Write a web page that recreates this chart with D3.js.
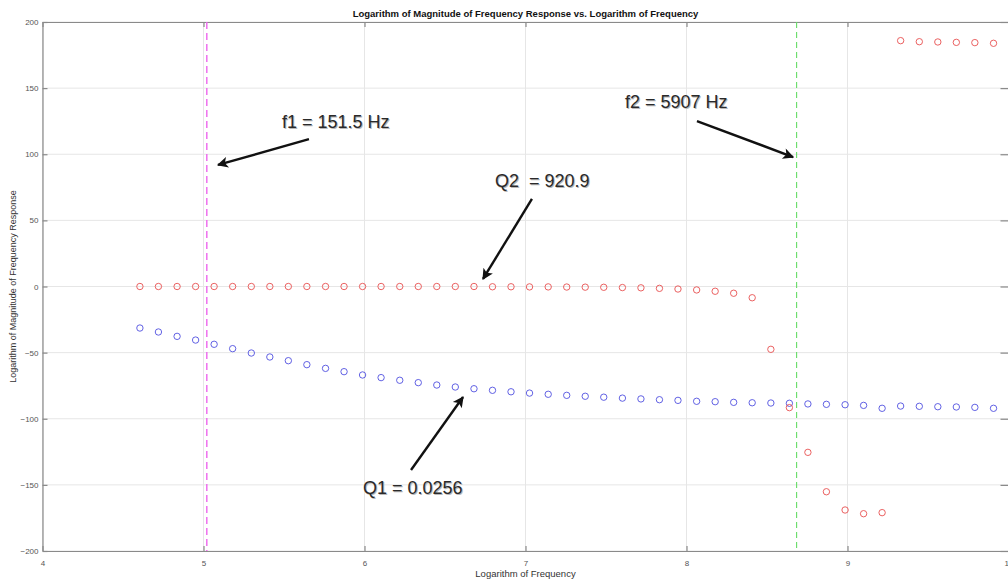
<!DOCTYPE html>
<html>
<head>
<meta charset="utf-8">
<script src="https://cdn.jsdelivr.net/npm/d3@7"></script>
<style>
  html, body { margin: 0; padding: 0; background: #fff; overflow: hidden; }
  svg { display: block; font-family: Arial, "Liberation Sans", sans-serif; }
</style>
</head>
<body>
<svg id="chart" width="1008" height="581"></svg>
<script>
// ---- data ----
const title = "Logarithm of Magnitude of Frequency Response vs. Logarithm of Frequency";
const xLabel = "Logarithm of Frequency";
const yLabel = "Logarithm of Magnitude of Frequency Response";
const xTicks = [4, 5, 6, 7, 8, 9, 10];
const yTicks = [-200, -150, -100, -50, 0, 50, 100, 150, 200];

const logFreq = [4.605, 4.720, 4.836, 4.951, 5.066, 5.181, 5.297, 5.412, 5.527, 5.642,
  5.758, 5.873, 5.988, 6.103, 6.219, 6.334, 6.449, 6.564, 6.680, 6.795,
  6.910, 7.025, 7.141, 7.256, 7.371, 7.486, 7.602, 7.717, 7.832, 7.947,
  8.063, 8.178, 8.293, 8.408, 8.524, 8.639, 8.754, 8.869, 8.985, 9.100,
  9.215, 9.330, 9.446, 9.561, 9.676, 9.791, 9.907];

// Q2 = 920.9 filter (red)
const magQ2 = [0, 0, 0, 0, 0, 0, 0, 0, 0, 0,
  0, 0, 0, 0, 0, 0, 0, 0, 0, -0.2,
  -0.2, -0.3, -0.3, -0.4, -0.5, -0.6, -0.8, -1.0, -1.4, -1.9,
  -2.6, -3.6, -5.1, -8.5, -47.5, -91.6, -125.4, -155.2, -169.0, -171.8,
  -171.0, 185.9, 185.1, 184.9, 184.6, 184.4, 183.9];

// Q1 = 0.0256 filter (blue)
const magQ1 = [-31.4, -34.4, -37.7, -40.5, -43.7, -47.0, -50.3, -53.3, -56.1, -59.1,
  -61.9, -64.4, -66.9, -68.9, -70.9, -72.7, -74.5, -76.0, -77.3, -78.5,
  -79.6, -80.6, -81.5, -82.3, -83.0, -83.7, -84.4, -85.0, -85.6, -86.1,
  -86.8, -87.1, -87.6, -87.9, -88.1, -88.3, -88.8, -89.1, -89.4, -89.9,
  -92.1, -90.4, -90.6, -90.9, -91.1, -91.4, -92.1];

// cutoff frequencies (log of Hz)
const f1Log = Math.log(151.5);
const f2Log = Math.log(5907);

// annotations: text and arrow anchors in data units
const annoLabels = ["f1 = 151.5 Hz", "f2 = 5907 Hz", "Q2  = 920.9", "Q1 = 0.0256"];
const annoTextX = [5.487, 7.618, 6.811, 5.991];
const annoTextY = [119.8, 135.0, 75.2, -156.9];
const arrowFromX = [5.655, 8.065, 7.040, 6.289];
const arrowFromY = [111.5, 125.1, 66.2, -138.8];
const arrowToX = [5.090, 8.662, 6.736, 6.612];
const arrowToY = [91.9, 97.9, 5.7, -83.6];

// ---- drawing ----
const svg = d3.select("#chart");
const pLeft = 42.5, pRight = 1008.5, pTop = 22, pBottom = 551;

const x = d3.scaleLinear().domain([4, 10]).range([pLeft, pRight]);
const y = d3.scaleLinear().domain([-200, 200]).range([pBottom, pTop]);

// grid
const grid = svg.append("g");
grid.selectAll("line.vx").data(xTicks).join("line").attr("class", "vx")
  .attr("x1", d => x(d)).attr("x2", d => x(d))
  .attr("y1", pTop).attr("y2", pBottom)
  .attr("stroke", "#e6e6e6").attr("stroke-width", 1);
grid.selectAll("line.hy").data(yTicks).join("line").attr("class", "hy")
  .attr("x1", pLeft).attr("x2", pRight)
  .attr("y1", d => y(d)).attr("y2", d => y(d))
  .attr("stroke", "#e6e6e6").attr("stroke-width", 1);

// axes (MATLAB style: ticks inward, box)
const axColor = "#8a8a8a";
function styleAxis(g, showLabels) {
  g.select(".domain").attr("stroke", axColor).attr("stroke-width", 1.2);
  g.selectAll(".tick line").attr("stroke", axColor).attr("stroke-width", 1.2);
  g.selectAll(".tick text").attr("fill", "#555").style("font-size", "8px")
    .style("display", showLabels ? null : "none");
}
const xAxisB = svg.append("g").attr("transform", `translate(0,${pBottom})`)
  .call(d3.axisBottom(x).tickValues(xTicks).tickFormat(d3.format("d")).tickSizeInner(-5).tickSizeOuter(0).tickPadding(9));
styleAxis(xAxisB, true);
const xAxisT = svg.append("g").attr("transform", `translate(0,${pTop})`)
  .call(d3.axisTop(x).tickValues(xTicks).tickSizeInner(-5).tickSizeOuter(0));
styleAxis(xAxisT, false);
const yAxisL = svg.append("g").attr("transform", `translate(${pLeft},0)`)
  .call(d3.axisLeft(y).tickValues(yTicks).tickFormat(d3.format("d")).tickSizeInner(-5).tickSizeOuter(0).tickPadding(4));
styleAxis(yAxisL, true);
const yAxisR = svg.append("g").attr("transform", `translate(${pRight},0)`)
  .call(d3.axisRight(y).tickValues(yTicks).tickSizeInner(-8).tickSizeOuter(0));
styleAxis(yAxisR, false);

// cutoff lines
svg.append("line")
  .attr("x1", x(f1Log)).attr("x2", x(f1Log)).attr("y1", pTop).attr("y2", pBottom)
  .attr("stroke", "#ee66ee").attr("stroke-width", 1.4).attr("stroke-dasharray", "7,4");
svg.append("line")
  .attr("x1", x(f2Log)).attr("x2", x(f2Log)).attr("y1", pTop).attr("y2", pBottom)
  .attr("stroke", "#66dd66").attr("stroke-width", 1.1).attr("stroke-dasharray", "6,4");

// markers
const pts = logFreq.map((lf, i) => ({ lf, q1: magQ1[i], q2: magQ2[i] }));
svg.append("g").selectAll("circle").data(pts).join("circle")
  .attr("cx", d => x(d.lf)).attr("cy", d => y(d.q1)).attr("r", 3.2)
  .attr("fill", "none").attr("stroke", "#5050e0").attr("stroke-width", 0.9);
svg.append("g").selectAll("circle").data(pts).join("circle")
  .attr("cx", d => x(d.lf)).attr("cy", d => y(d.q2)).attr("r", 3.2)
  .attr("fill", "none").attr("stroke", "#e85050").attr("stroke-width", 0.9);

// arrowhead marker
svg.append("defs").append("marker")
  .attr("id", "ah").attr("viewBox", "0 0 10 10").attr("refX", 9).attr("refY", 5)
  .attr("markerUnits", "userSpaceOnUse").attr("markerWidth", 14).attr("markerHeight", 11)
  .attr("orient", "auto")
  .append("path").attr("d", "M0,0 L10,5 L0,10 L2.5,5 Z").attr("fill", "#111");

// annotations
const annos = annoLabels.map((t, i) => ({
  t, tx: annoTextX[i], ty: annoTextY[i],
  fx: arrowFromX[i], fy: arrowFromY[i], ex: arrowToX[i], ey: arrowToY[i]
}));
const ag = svg.append("g");
ag.selectAll("line").data(annos).join("line")
  .attr("x1", d => x(d.fx)).attr("y1", d => y(d.fy))
  .attr("x2", d => x(d.ex)).attr("y2", d => y(d.ey))
  .attr("stroke", "#111").attr("stroke-width", 2.4).attr("marker-end", "url(#ah)");
// shadow
ag.selectAll("text.sh").data(annos).join("text").attr("class", "sh")
  .attr("x", d => x(d.tx) + 1).attr("y", d => y(d.ty) + 1.2)
  .attr("fill", "#b8b8b8").style("font-size", "18px").style("white-space", "pre").text(d => d.t);
ag.selectAll("text.main").data(annos).join("text").attr("class", "main")
  .attr("x", d => x(d.tx)).attr("y", d => y(d.ty))
  .attr("fill", "#2a2a2a").style("font-size", "18px").style("white-space", "pre").text(d => d.t);

// title and axis labels
svg.append("text").attr("x", (pLeft + pRight) / 2).attr("y", 17)
  .attr("text-anchor", "middle").style("font-size", "9.5px").style("font-weight", "bold")
  .attr("fill", "#111").text(title);
svg.append("text").attr("x", (pLeft + pRight) / 2).attr("y", 577)
  .attr("text-anchor", "middle").style("font-size", "9.5px").attr("fill", "#333").text(xLabel);
svg.append("text").attr("transform", `translate(16,${(pTop + pBottom) / 2}) rotate(-90)`)
  .attr("text-anchor", "middle").style("font-size", "9px").attr("fill", "#333").text(yLabel);
</script>
</body>
</html>
